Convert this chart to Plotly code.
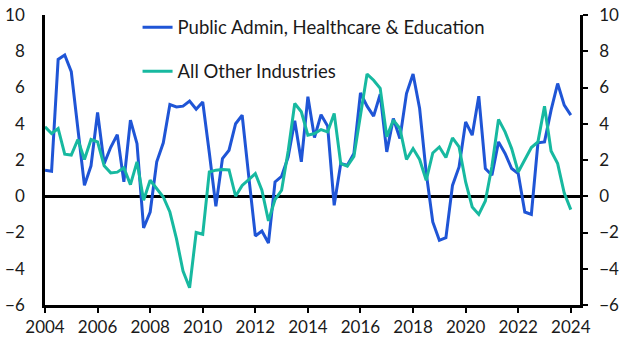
import plotly.graph_objects as go

start_year = 2004
quarters_per_year = 4

public_admin = [1.44, 1.38, 7.55, 7.79, 6.87, 3.6, 0.6, 1.68, 4.62, 1.8, 2.7, 3.4, 0.8, 4.2, 2.9,
                -1.75, -0.87, 1.9, 2.95, 5.06, 4.93, 4.97, 5.25, 4.8, 5.2, 2.4, -0.55, 2.08, 2.54,
                4.0, 4.47, 1.1, -2.19, -1.92, -2.58, 0.79, 1.1, 2.17, 4.16, 1.9, 5.49, 3.24, 4.5,
                3.87, -0.5, 1.8, 1.71, 2.36, 5.7, 4.97, 4.42, 5.63, 2.45, 4.29, 3.19, 5.67, 6.74,
                4.84, 1.3, -1.42, -2.43, -2.28, 0.6, 1.62, 4.1, 3.37, 5.52, 1.53, 1.16, 3.0, 2.36,
                1.53, 1.25, -0.87, -1.0, 2.95, 3.0, 4.75, 6.22, 5.03, 4.48]
other_industries = [3.83, 3.46, 3.74, 2.32, 2.27, 3.13, 2.03, 3.13, 3.0, 1.68, 1.29, 1.33, 1.57,
                    0.64, 1.9, -0.22, 0.88, 0.42, -0.04, -0.87, -2.34, -4.13, -5.05, -2.0, -2.1,
                    1.34, 1.44, 1.47, 1.45, 0.0, 0.6, 0.92, 1.25, 0.33, -1.36, -0.18, 0.33, 2.5,
                    5.12, 4.66, 3.37, 3.46, 3.68, 3.55, 4.57, 1.8, 1.66, 2.2, 4.47, 6.74, 6.4, 5.95,
                    3.28, 4.2, 3.74, 2.03, 2.63, 2.03, 0.88, 2.39, 2.72, 2.14, 3.22, 2.72, 0.79,
                    -0.59, -1.0, -0.26, 1.66, 4.24, 3.55, 2.63, 1.34, 2.03, 2.69, 3.0, 4.97, 2.5,
                    1.8, 0.18, -0.74]
x_ticks = list(range(2004, 2025, 2))
y_ticks = list(range(-6, 11, 2))

dates = [start_year + i / quarters_per_year for i in range(len(public_admin))]

BLUE = "#1f55d6"
TEAL = "#17b9a0"
FONT = "Lato, 'Open Sans', sans-serif"

fig = go.Figure()
fig.add_trace(go.Scatter(x=dates, y=public_admin, mode="lines",
                         name="Public Admin, Healthcare & Education",
                         line=dict(color=BLUE, width=3), legendgroup="a"))
fig.add_trace(go.Scatter(x=dates, y=other_industries, mode="lines",
                         name="All Other Industries",
                         line=dict(color=TEAL, width=3), legendgroup="b"))
# invisible trace to attach the right-hand axis
fig.add_trace(go.Scatter(x=dates, y=other_industries, mode="lines", yaxis="y2",
                         line=dict(color="rgba(0,0,0,0)", width=0), showlegend=False,
                         hoverinfo="skip"))

fig.update_layout(
    width=631, height=359,
    margin=dict(l=45, r=51, t=15, b=54, autoexpand=False),
    plot_bgcolor="white", paper_bgcolor="white",
    font=dict(family=FONT, size=17, color="#1a1a1a"),
    showlegend=True,
    legend=dict(x=0.173, y=1.022, xanchor="left", yanchor="top",
                bgcolor="rgba(0,0,0,0)", font=dict(size=18.5),
                traceorder="grouped", tracegroupgap=17),
    xaxis=dict(range=[2004, 2024.35], tickvals=x_ticks, ticks="outside", ticklen=5,
               tickwidth=2, tickcolor="black", showline=True, linewidth=2.5,
               linecolor="black", showgrid=False, zeroline=False, automargin=False),
    yaxis=dict(range=[-6, 10], tickvals=y_ticks, ticks="", showline=True, linewidth=2.5,
               linecolor="black", showgrid=False, zeroline=True, zerolinecolor="black",
               zerolinewidth=2.5, ticklabelstandoff=14, automargin=False),
    yaxis2=dict(range=[-6, 10], tickvals=y_ticks, overlaying="y", side="right",
                ticks="outside", ticklen=5, tickwidth=2, tickcolor="black", showline=True,
                linewidth=2.5, linecolor="black", showgrid=False, zeroline=False,
                ticklabelstandoff=8, automargin=False),
)

fig.write_html("out.html", config={"displayModeBar": False},
               post_script="document.body.style.margin='0';document.body.style.overflow='hidden';")
